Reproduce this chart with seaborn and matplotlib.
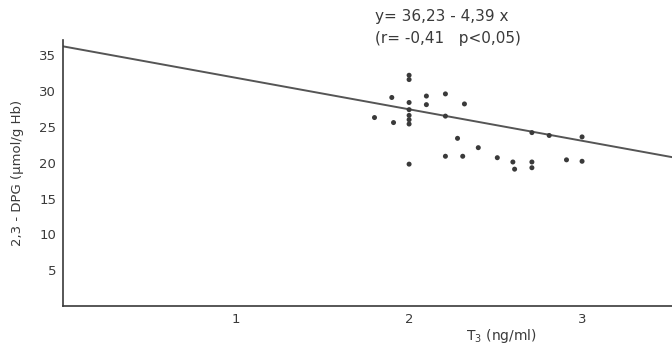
import matplotlib
matplotlib.use("Agg")
import matplotlib.pyplot as plt
import seaborn as sns
import numpy as np
import pandas as pd

# T3 concentration (ng/ml) and 2,3-DPG (µmol/g Hb) per patient
t3 = [1.80, 1.90, 1.91, 2.00, 2.00, 2.00, 2.00, 2.00, 2.00, 2.00, 2.00,
      2.10, 2.10, 2.21, 2.21, 2.32, 2.28, 2.21, 2.31, 2.40, 2.51,
      2.60, 2.61, 2.71, 2.71, 2.71, 2.81, 2.91, 3.00, 3.00]
dpg = [26.3, 29.1, 25.6, 32.2, 31.6, 28.4, 27.4, 26.6, 26.0, 25.4, 19.8,
       29.3, 28.1, 29.6, 26.5, 28.2, 23.4, 20.9, 20.9, 22.1, 20.7,
       20.1, 19.1, 20.1, 19.3, 24.2, 23.8, 20.4, 23.6, 20.2]

# regression y = a - b x
intercept = 36.23
slope = -4.39
r_value = "-0,41"
p_text = "p<0,05"

x_ticks = [1, 2, 3]
y_ticks = [5, 10, 15, 20, 25, 30, 35]

sns.set_style("white")
plt.rcParams["font.family"] = ["DejaVu Sans"]
ink = "#3a3a3a"

fig = plt.figure(figsize=(6.72, 3.49), dpi=100)
ax = fig.add_axes([0.094, 0.123, 0.906, 0.762])

df = pd.DataFrame({"T3": t3, "DPG": dpg})
sns.scatterplot(data=df, x="T3", y="DPG", ax=ax, color=ink, s=13,
                edgecolor="none", zorder=3)

xmax = 3.52
xl = np.array([0.0, xmax])
line_df = pd.DataFrame({"x": xl, "y": intercept + slope * xl})
sns.lineplot(data=line_df, x="x", y="y", ax=ax, color="#555555", lw=1.4)

ax.set_xlim(0, xmax)
ax.set_ylim(0, 37.1)
ax.set_xticks(x_ticks)
ax.set_xticklabels([str(v) for v in x_ticks])
ax.set_yticks(y_ticks)
ax.set_yticklabels([str(v) for v in y_ticks])

for side in ["top", "right"]:
    ax.spines[side].set_visible(False)
for side in ["left", "bottom"]:
    ax.spines[side].set_color(ink)
    ax.spines[side].set_linewidth(1.2)

ax.tick_params(axis="both", colors=ink, labelsize=9.5, length=3, width=1,
               direction="out", pad=2)

ax.set_xlabel("T$_3$ (ng/ml)", fontsize=10, color=ink)
ax.xaxis.set_label_coords(0.72, -0.08)
ax.set_ylabel("2,3 - DPG (µmol/g Hb)", fontsize=9.5, color=ink)
ax.yaxis.set_label_coords(-0.065, 0.5)

fig.text(375 / 672, 1 - 17 / 349, f"y= {intercept:.2f}".replace(".", ",")
         + f" - {abs(slope):.2f}".replace(".", ",") + " x",
         fontsize=11, color=ink, va="center", ha="left")
fig.text(375 / 672, 1 - 38 / 349, f"(r= {r_value}   {p_text})",
         fontsize=11, color=ink, va="center", ha="left")

fig.savefig("out.png", dpi=100, facecolor="white")
